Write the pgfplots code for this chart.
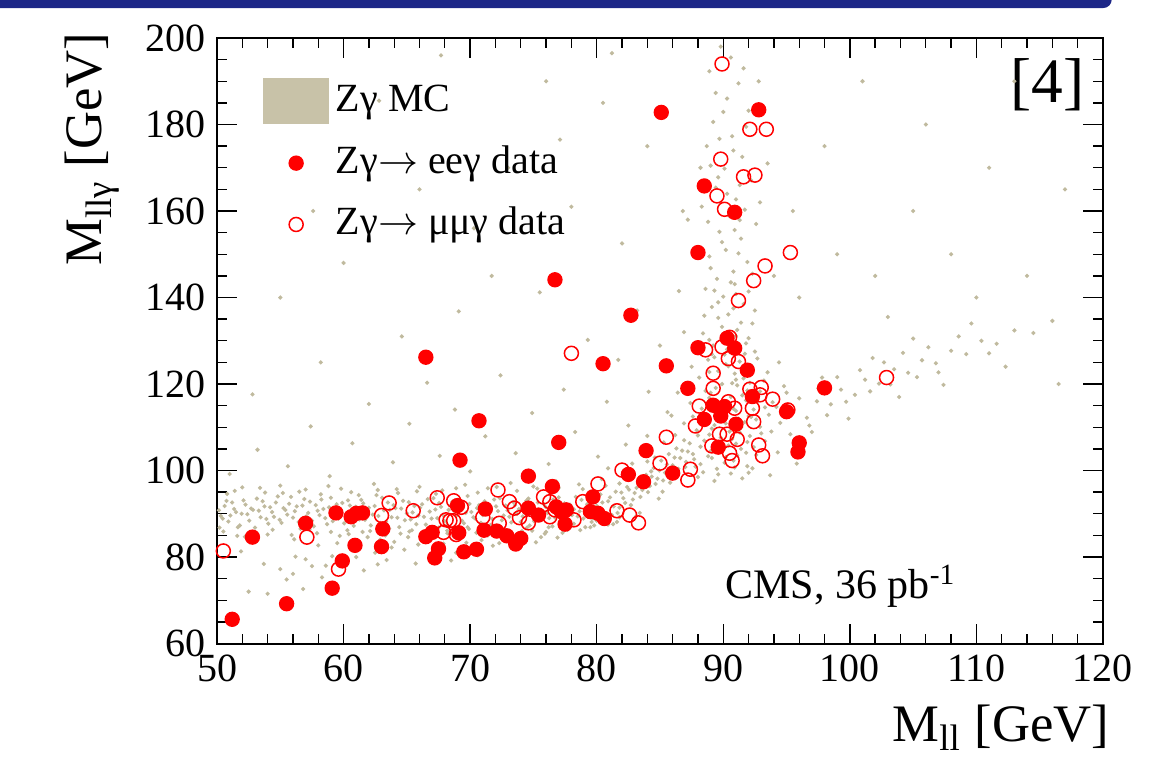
\documentclass[border=0pt]{standalone}
\usepackage{fontspec}
\setmainfont{Liberation Serif}
\usepackage{pgfplots}
\pgfplotsset{compat=1.18}
\definecolor{mc}{RGB}{200,194,168}
\definecolor{mcdot}{RGB}{192,186,158}
\definecolor{barblue}{RGB}{28,38,135}
\pgfplotsset{
  mcleg/.style={legend image code/.code={\fill[mc] (0pt,-6.75pt) rectangle (19.5pt,6.75pt);}},
  markleg/.style={legend image code/.code={\path[draw=none,fill=none] (0pt,-6.75pt) rectangle (19.5pt,6.75pt); \draw[##1] plot coordinates {(9.75pt,0pt)};}},
}
\begin{document}
\begin{tikzpicture}
\path[use as bounding box] (0pt,0pt) rectangle (352.2pt,-227.7pt);
\fill[barblue, rounded corners=2.5pt] (-5pt,4pt) rectangle (333.5pt,-2.4pt);
\begin{axis}[
  at={(65.1pt,-193.05pt)}, anchor=south west,
  scale only axis, width=265.8pt, height=181.65pt,
  xmin=50, xmax=120, ymin=60, ymax=200,
  xtick={50,60,...,120}, ytick={60,80,...,200},
  minor x tick num=4, minor y tick num=3,
  tick align=inside, xtick pos=both, ytick pos=both,
  major tick length=6pt, minor tick length=3pt,
  axis line style={line width=0.6pt},
  every tick/.style={black, line width=0.4pt},
  tick label style={font=\fontsize{12}{14}\selectfont},
  /pgf/number format/assume math mode=true,
  xlabel={M\textsubscript{ll} [GeV]},
  ylabel={M\textsubscript{llγ} [GeV]},
  label style={font=\fontsize{15.8}{18}\selectfont, inner sep=0pt},
  xlabel style={at={(axis description cs:1.0079,-0.161)}, anchor=base east},
  ylabel style={at={(axis description cs:-0.1298,1.01)}, anchor=base east},
  legend style={draw=none, fill=none, inner sep=0pt, outer sep=0pt,
    at={(axis description cs:0.0519,0.934)}, anchor=north west,
    font=\fontsize{12}{14}\selectfont, row sep=4.9pt, column sep=2pt,
    nodes={inner sep=0pt, text height=9pt, text depth=3pt}},
  legend cell align=left,
]
\addplot[only marks, mark=*, mark size=0.4pt, color=mcdot, mcleg]
coordinates {
(50.3,89.5)(50.6,91.8)(50.9,88.2)(51.2,92.6)(51.5,90.4)(51.8,87.3)(52.1,93.1)(52.4,89.9)(52.7,91.2)(53.0,86.8)
(53.3,90.7)(53.6,92.9)(53.9,88.8)(54.2,91.5)(54.5,89.3)(54.8,94.0)(55.1,87.9)(55.4,90.9)(55.7,92.3)(56.0,89.1)
(56.3,91.7)(56.6,86.5)(56.9,93.4)(57.2,90.2)(57.5,88.4)(57.8,92.0)(58.1,89.7)(58.4,91.1)(58.7,87.6)(59.0,93.7)
(59.3,90.6)(59.6,88.9)(59.9,92.5)(60.2,89.4)(60.5,91.9)(60.8,87.2)(61.1,90.3)(61.4,93.2)(61.7,88.6)(62.0,91.4)
(62.3,89.8)(62.6,94.3)(62.9,87.9)(63.2,90.8)(63.5,92.6)(63.8,89.2)(64.1,91.3)(64.4,86.9)(64.7,93.0)(65.0,90.1)
(65.3,88.7)(65.6,91.8)(65.9,89.6)(66.2,92.2)(66.5,87.5)(66.8,90.5)(67.1,93.6)(67.4,89.0)(67.7,91.6)(68.0,88.3)
(68.3,90.9)(68.6,92.8)(68.9,89.5)(69.2,91.2)(69.5,87.8)(69.8,94.1)(70.1,90.4)(70.4,88.9)(70.7,92.0)(71.0,89.7)
(71.3,91.5)(71.6,87.4)(71.9,93.3)(72.2,90.6)(72.5,88.5)(72.8,91.9)(73.1,89.3)(73.4,92.7)(73.7,90.0)(74.0,88.1)
(74.3,91.4)(74.6,93.5)(74.9,89.8)(75.2,90.9)(75.5,88.6)(75.8,92.3)(76.1,90.2)(76.4,91.7)(76.7,89.1)(77.0,93.8)
(77.3,90.7)(77.6,88.8)(77.9,92.1)(78.2,91.0)(78.5,89.4)(78.8,93.2)(79.1,90.5)(79.4,92.6)(79.7,88.9)(80.0,91.8)
(80.3,94.5)(80.6,90.3)(80.9,92.9)(81.2,89.7)(81.5,95.1)(81.8,91.4)(82.1,93.6)(82.4,96.2)(82.7,92.0)(83.0,94.8)
(83.3,97.3)(83.6,95.5)(83.9,99.0)(84.2,96.4)(84.5,100.6)(84.8,98.1)(85.1,102.3)(85.4,99.5)(85.7,103.8)(86.0,101.2)
(86.3,105.1)(86.6,102.9)(86.9,107.0)(87.2,104.4)
(50.5,85.9)(51.4,95.3)(52.2,84.7)(53.4,96.0)(54.0,85.2)(55.2,94.8)(56.1,84.1)(57.0,95.6)(57.9,85.5)(58.8,96.4)
(59.7,84.9)(60.6,95.0)(61.5,85.8)(62.4,96.9)(63.3,85.0)(64.2,95.7)(65.1,84.6)(66.0,96.2)(66.9,85.7)(67.8,95.4)
(68.7,84.8)(69.6,96.7)(70.5,85.6)(71.4,95.9)(72.3,85.1)(73.2,97.1)(74.1,86.0)(75.0,96.3)(75.9,85.4)(76.8,97.5)
(77.7,86.3)(78.6,96.8)(79.5,86.9)(80.4,98.0)(81.3,87.6)(82.2,99.3)(83.1,89.4)(84.0,102.1)(84.9,93.5)(85.8,97.2)
(50.15,90.8)(50.45,88.9)(50.75,93.0)(51.05,89.6)(51.35,91.1)(51.65,86.9)(51.95,90.0)(52.25,92.1)(52.55,88.4)(52.85,90.9)
(53.15,93.5)(53.45,89.2)(53.75,91.7)(54.05,87.7)(54.35,90.4)(54.65,92.6)(54.95,88.6)(55.25,91.3)(55.55,89.8)(55.85,93.9)
(56.15,90.6)(56.45,88.1)(56.75,91.9)(57.05,89.4)(57.35,92.8)(57.65,87.1)(57.95,90.7)(58.25,93.3)(58.55,89.0)(58.85,91.5)
(59.15,88.3)(59.45,92.2)(59.75,90.1)(60.05,87.8)(60.35,93.1)(60.65,89.9)(60.95,91.6)(61.25,88.7)(61.55,92.4)(61.85,90.5)
(62.15,87.3)(62.45,91.8)(62.75,89.5)(63.05,93.7)(63.35,88.2)(63.65,90.9)(63.95,92.0)(64.25,89.1)(64.55,91.2)(64.85,88.5)
(65.15,92.7)(65.45,90.3)(65.75,87.6)(66.05,91.4)(66.35,89.3)(66.65,93.4)(66.95,88.9)(67.25,91.0)(67.55,92.5)(67.85,89.7)
(68.15,87.4)(68.45,91.9)(68.75,90.6)(69.05,93.2)(69.35,88.4)(69.65,90.2)(69.95,92.3)(70.25,89.2)(70.55,91.3)(70.85,87.9)
(71.15,92.9)(71.45,90.0)(71.75,88.8)(72.05,91.7)(72.35,93.6)(72.65,89.6)(72.95,90.8)(73.25,88.0)(73.55,92.0)(73.85,91.1)
(74.15,89.4)(74.45,93.0)(74.75,90.5)(75.05,88.3)(75.35,92.6)(75.65,90.1)(75.95,91.6)(76.25,89.0)(76.55,93.3)(76.85,90.4)
(77.15,88.5)(77.45,92.4)(77.75,91.2)(78.05,89.7)(78.35,93.9)(78.65,90.6)(78.95,88.9)(79.25,92.2)(79.55,91.0)(79.85,94.2)
(80.15,90.0)(80.45,92.6)(80.75,89.4)(81.05,93.8)(81.35,91.7)(81.65,90.2)(81.95,94.9)(82.25,92.5)(82.55,95.6)(82.85,93.3)
(83.15,96.0)(83.45,93.9)(83.75,97.8)(84.05,95.0)(84.35,98.6)(84.65,96.9)(84.95,100.0)(85.25,97.7)(85.55,101.4)(85.85,99.0)
(86.15,103.0)(86.45,100.4)(86.75,104.6)(87.05,102.0)(87.35,106.3)
(50.2,86.8)(50.8,94.6)(51.6,84.9)(52.0,96.1)(52.9,85.6)(53.8,94.9)(54.4,86.3)(55.0,96.5)(55.9,85.1)(56.5,95.1)
(57.3,86.4)(58.2,94.5)(59.0,85.8)(59.8,95.8)(60.3,86.2)(61.2,94.3)(62.1,86.0)(62.7,95.5)(63.6,86.6)(64.3,94.8)
(65.2,85.9)(65.8,95.2)(66.7,86.4)(67.3,94.6)(68.2,86.1)(68.9,95.9)(69.8,86.9)(70.6,94.9)(71.3,86.7)(72.1,96.2)
(72.8,86.3)(73.7,95.3)(74.5,86.8)(75.3,95.8)(76.2,86.9)(77.0,96.0)(77.9,87.4)(78.9,95.7)(79.8,87.3)(80.7,96.5)
(81.6,88.1)(82.5,97.9)(83.4,90.2)(84.3,99.8)(85.2,95.1)(86.1,98.6)(87.0,100.8)
(52.5,72.0)(54.0,71.5)(55.5,74.8)(56.8,72.6)(57.5,77.9)(58.3,75.3)(59.1,80.2)(60.0,78.6)(60.9,82.4)(61.6,76.9)
(62.5,81.0)(63.4,79.3)(64.0,83.5)(64.8,81.7)(65.7,78.5)(66.3,84.2)(67.0,80.9)(67.9,83.1)(68.5,79.2)(69.3,84.6)
(70.2,81.5)(70.9,83.9)(71.8,82.6)(72.6,84.4)(73.3,82.1)(74.4,84.9)(75.2,83.4)(76.0,85.8)(76.9,84.5)(77.8,87.0)
(78.7,86.2)(79.6,88.1)(58.0,82.7)(60.4,85.3)(62.9,84.0)(65.4,86.2)(67.5,86.8)(69.9,86.5)(72.0,87.1)(74.7,87.3)
(53.7,78.4)(56.2,80.1)(51.9,81.3)
(55.0,77.2)(56.0,76.1)(57.0,79.5)(58.6,78.0)(59.5,83.2)(61.0,80.0)(61.9,84.6)(62.7,78.3)(63.8,82.2)(64.5,85.4)
(65.9,82.9)(66.8,79.7)(67.3,82.0)(68.2,85.5)(68.9,81.0)(69.7,83.3)(70.6,80.4)(71.4,85.0)(72.3,83.2)(73.0,85.8)
(73.9,83.6)(74.9,86.1)(75.6,84.6)(76.5,87.1)(77.3,85.6)(78.2,87.7)(79.1,86.9)(80.0,88.4)(80.9,87.5)(81.8,89.2)
(51.0,99.2)(53.2,104.8)(55.6,101.0)(57.4,110.2)(58.9,98.7)(60.7,106.3)(62.0,115.4)(63.9,101.9)(65.2,110.8)(66.6,120.3)
(67.6,103.4)(68.8,114.1)(70.0,99.8)(71.2,107.9)(72.4,122.0)(73.6,104.0)(74.9,113.3)(76.2,101.5)(77.4,118.7)(78.3,108.9)
(79.3,130.2)(80.1,103.2)(80.8,115.9)(81.7,125.6)(82.5,110.4)(83.2,137.0)(84.1,118.2)(85.0,128.9)(85.9,112.7)(86.5,141.5)
(64.6,131.0)(69.1,136.8)(75.5,141.2)(58.2,125.0)(52.8,117.6)(60.0,148.0)(70.3,156.0)(78.0,161.0)(82.0,152.5)(73.0,170.0)
(66.0,165.0)(80.5,185.0)(76.0,190.0)(84.0,175.0)(86.8,160.0)(55.0,140.0)(62.8,185.5)(67.7,196.0)(71.7,145.0)(57.6,160.0)
(81.2,196.5)(77.1,176.5)
(80.9,100.5)(81.8,97.0)(82.8,101.6)(83.5,104.3)(84.6,103.0)(85.3,106.5)(86.2,108.2)(86.9,110.9)(87.6,112.5)(84.0,108.0)
(82.3,106.0)(85.6,113.5)(86.4,118.0)(87.5,124.0)(87.8,128.0)
(88.2,101.5)(89.5,100.4)(90.8,102.3)(91.9,101.0)(87.6,103.8)(89.0,104.5)(90.2,103.1)(91.4,105.0)(92.6,103.6)(88.5,106.9)
(89.8,107.6)(91.0,106.2)(92.1,108.0)(93.3,106.8)(87.9,109.3)(89.3,110.5)(90.5,109.0)(91.7,111.2)(92.9,110.1)(88.7,112.8)
(90.0,113.5)(91.2,112.0)(92.4,114.1)(93.6,112.9)(87.4,115.6)(88.9,116.8)(90.3,115.2)(91.5,117.4)(92.7,116.0)(89.4,119.1)
(90.7,120.2)(91.9,118.5)(93.2,120.8)(88.1,121.5)(89.6,123.0)(90.9,122.4)(92.2,124.3)(88.8,125.6)(90.1,126.8)(91.3,125.2)
(92.5,127.5)(89.2,128.9)(90.6,130.1)(91.8,129.4)(88.4,131.7)(89.9,133.2)(91.1,132.5)(92.3,134.0)(90.4,136.1)(89.1,137.8)
(91.6,138.5)(90.0,140.2)(88.6,142.0)(92.0,141.4)(89.5,144.3)(90.8,146.0)(91.9,148.2)(88.9,149.5)(90.2,151.0)(91.4,153.6)
(89.7,155.2)(92.6,157.0)(90.5,158.8)(88.3,161.0)(91.0,162.7)(89.4,165.4)(92.2,167.1)(90.1,169.8)(91.5,172.5)(88.7,175.0)
(90.7,177.3)(89.2,180.6)(92.0,183.2)(90.3,186.0)(91.2,189.5)(88.9,192.3)(90.6,195.5)(89.8,198.0)(93.5,171.0)(87.2,158.0)
(94.0,145.0)(86.9,132.0)(94.4,125.0)(87.0,119.5)(93.9,115.8)(89.6,138.9)(90.9,143.1)(91.3,157.9)(89.0,170.5)(92.8,190.0)
(88.0,98.5)(89.3,97.6)(90.6,99.3)(91.5,98.2)(87.8,100.9)(90.1,101.8)(92.3,100.5)(89.1,102.9)(90.4,105.8)(91.8,104.1)
(88.9,108.3)(91.3,108.8)(89.7,111.6)(92.0,112.6)(90.8,114.3)(89.0,118.0)(91.1,119.7)(90.4,124.1)(91.6,121.3)(89.3,126.2)
(90.3,128.0)(91.0,131.1)
(88.4,99.6)(89.6,99.1)(90.9,100.7)(92.0,99.5)(87.7,102.6)(88.8,103.3)(90.0,104.9)(91.1,103.5)(92.4,105.4)(88.2,105.5)
(89.4,106.1)(90.7,107.3)(91.9,106.6)(93.0,108.6)(88.0,108.1)(89.1,109.7)(90.2,110.9)(91.4,109.9)(92.6,111.8)(88.6,111.2)
(89.8,113.0)(91.0,113.8)(92.2,112.4)(93.3,114.6)(88.3,114.3)(89.5,115.8)(90.6,117.0)(91.8,116.2)(92.9,118.3)(88.6,118.4)
(89.9,120.0)(91.0,121.0)(92.1,120.3)(93.5,122.7)(88.9,122.8)(90.2,124.6)(91.5,123.6)(92.7,125.9)(89.1,126.9)(90.5,127.4)
(91.7,127.0)(92.0,130.6)(88.9,130.2)(90.2,131.4)(91.4,134.2)(89.6,135.3)(90.8,137.5)(92.5,137.0)(88.5,135.8)(91.0,140.8)
(89.3,141.6)(90.6,143.5)(92.3,145.5)(89.0,146.8)(91.2,150.2)(89.9,152.8)(90.9,155.6)(88.8,157.5)(91.7,160.3)(90.3,164.0)
(89.6,167.8)(91.3,166.0)(90.8,174.0)(89.7,176.7)(91.8,179.5)(90.0,182.9)(89.4,187.3)(91.6,193.0)(88.2,170.0)(92.9,162.0)
(94.5,111.0)(95.5,113.5)(96.6,112.2)(97.4,116.0)(98.5,115.3)(99.3,118.7)(100.4,117.5)(101.2,121.0)(102.3,120.1)(103.5,123.4)
(104.6,122.6)(105.7,125.5)(106.8,124.8)(108.0,127.7)(109.2,126.9)(110.4,130.0)(111.6,129.3)(113.0,132.4)(114.5,131.8)(116.0,134.6)
(95.0,118.0)(96.2,107.5)(97.8,121.5)(99.9,112.0)(101.8,126.0)(103.9,117.0)(105.0,130.5)(107.4,119.8)(109.6,134.0)(112.3,124.0)
(94.3,104.2)(95.8,101.6)(93.7,98.9)(97.0,108.9)
(93.8,109.0)(94.2,114.7)(94.8,119.5)(95.3,108.4)(96.0,116.7)(96.8,110.4)(97.5,119.0)(98.2,112.8)(99.0,121.6)(99.7,115.9)
(100.8,123.2)(101.6,118.3)(102.7,125.0)(103.2,119.9)(104.2,127.2)(105.3,121.6)(106.2,128.5)(107.0,122.7)(108.6,131.0)(111.0,127.1)
(96.0,140.0)(99.0,150.0)(102.0,145.0)(105.0,160.0)(108.0,150.0)(111.0,170.0)(114.0,145.0)(117.0,165.0)(98.0,175.0)(101.0,190.0)
(106.0,180.0)(113.0,190.0)(95.5,160.0)(103.0,135.5)(110.0,140.0)(116.5,120.0)
};
\addlegendentry{Zγ MC}
\addplot[only marks, mark=*, mark size=2.1pt, color=red, mark options={fill=red, draw=red}, markleg]
coordinates {
(66.5,126.2)(70.7,111.5)(77.0,106.5)(69.2,102.4)(74.6,98.7)(76.5,96.3)(59.4,90.2)(60.6,89.3)(61.0,90.1)(61.5,90.2)
(57.0,87.8)(52.8,84.6)(63.1,86.5)(63.0,82.4)(60.9,82.7)(59.9,79.1)(59.1,72.8)(55.5,69.2)(51.2,65.6)(69.0,91.9)
(66.5,84.7)(67.0,85.7)(67.5,81.9)(67.2,79.8)(69.1,85.6)(69.5,81.2)(70.5,81.8)(71.2,91.1)(71.1,86.2)(72.1,86.0)
(72.9,84.9)(73.6,83.0)(74.0,84.3)(74.6,91.3)(75.4,89.7)(76.8,91.6)(77.2,90.5)(77.6,90.9)(77.5,87.6)(79.7,93.9)
(79.5,90.5)(80.1,90.1)(80.5,124.7)(85.5,124.2)(87.2,119.0)(88.0,128.4)(90.3,130.6)(90.9,128.3)(91.9,123.2)(92.3,117.1)
(89.2,115.1)(89.9,114.4)(90.1,114.8)(89.8,112.6)(88.5,111.8)(91.0,110.7)(89.6,105.4)(95.0,113.6)(96.0,106.4)(95.9,104.3)
(98.0,119.1)(83.9,104.6)(82.5,99.1)(83.7,97.4)(86.0,99.4)(80.6,88.9)(85.1,182.8)(92.8,183.4)(88.5,165.8)(90.9,159.7)
(88.0,150.4)(82.7,135.9)(76.7,144.1)
};
\addlegendentry{Zγ\(\rightarrow\) eeγ data}
\addplot[only marks, mark=o, mark size=2.1pt, color=red, mark options={line width=0.45pt}, markleg]
coordinates {
(50.5,81.4)(57.1,84.6)(59.6,77.2)(63.6,92.5)(63.0,89.6)(65.5,90.7)(67.4,93.7)(68.7,93.0)(69.3,91.5)(68.1,88.6)
(68.4,88.4)(68.7,88.4)(67.9,85.7)(68.9,85.2)(71.0,89.2)(72.2,95.5)(72.3,87.8)(73.1,92.8)(73.5,91.3)(73.9,89.1)
(74.6,87.9)(75.8,93.9)(76.3,92.8)(76.3,89.3)(76.7,90.9)(78.0,127.1)(78.2,88.6)(78.9,92.8)(80.1,96.9)(90.5,130.8)
(88.6,127.9)(89.9,128.6)(90.4,125.9)(91.2,125.2)(89.2,122.5)(89.2,119.0)(92.1,118.8)(93.0,119.2)(92.9,117.5)(93.9,116.5)
(88.1,114.9)(90.4,115.9)(90.9,114.4)(92.3,114.4)(92.4,111.3)(95.1,114.0)(87.8,110.3)(85.5,107.7)(89.7,108.4)(90.3,108.4)
(91.1,107.2)(89.1,105.7)(92.8,105.9)(90.5,104.0)(90.7,102.3)(93.1,103.4)(85.0,101.7)(82.0,100.1)(87.4,100.3)(87.2,97.8)
(81.6,90.7)(82.6,89.7)(83.3,87.9)(102.9,121.5)(89.9,194.0)(92.1,178.9)(93.4,178.9)(89.8,172.0)(91.6,167.9)(92.5,168.3)
(89.5,163.5)(90.1,160.4)(95.3,150.4)(93.3,147.3)(92.4,143.9)(91.2,139.3)
};
\addlegendentry{Zγ\(\rightarrow\) μμγ data}
\node[anchor=base west, inner sep=0pt, font=\fontsize{12.6}{15}\selectfont] at (axis cs:90.13,70.3) {CMS, 36 pb\textsuperscript{-1}};
\node[anchor=base east, font=\fontsize{19}{22}\selectfont, inner sep=0pt] at (axis cs:118.56,185.2) {[4]};
\end{axis}
\end{tikzpicture}
\end{document}
